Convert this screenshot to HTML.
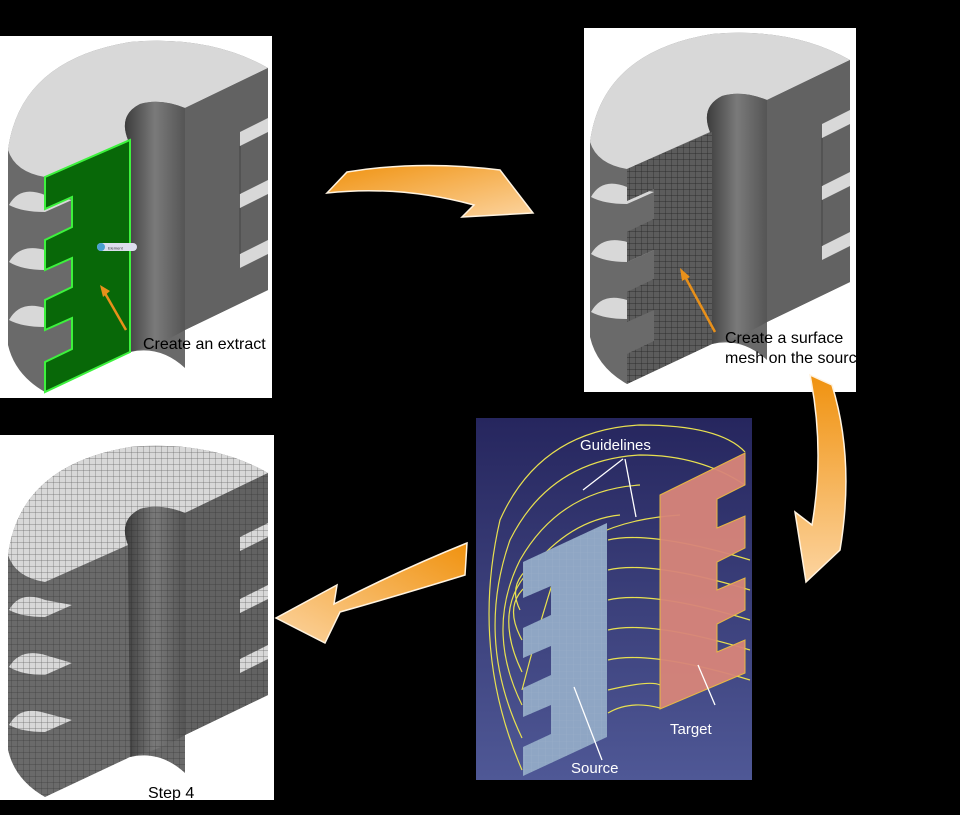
<!DOCTYPE html>
<html><head><meta charset="utf-8"><style>
html,body{margin:0;padding:0;background:#000;}
svg{display:block;}
text{font-family:"Liberation Sans",sans-serif;}
</style></head><body>
<svg width="960" height="815" viewBox="0 0 960 815" xmlns="http://www.w3.org/2000/svg">
<defs>
<linearGradient id="og" x1="0" y1="0" x2="1" y2="1"><stop offset="0" stop-color="#f0920f"/><stop offset="1" stop-color="#fcd4a0"/></linearGradient>
<linearGradient id="og2" x1="1" y1="0" x2="0" y2="1"><stop offset="0" stop-color="#f0920f"/><stop offset="1" stop-color="#fcd4a0"/></linearGradient>
<linearGradient id="og3" x1="0" y1="0" x2="0" y2="1"><stop offset="0" stop-color="#f0920f"/><stop offset="1" stop-color="#fcd4a0"/></linearGradient>
<linearGradient id="bg3" x1="0" y1="0" x2="0" y2="1"><stop offset="0" stop-color="#26265e"/><stop offset="1" stop-color="#4f5896"/></linearGradient>
<linearGradient id="hole" x1="0" y1="0" x2="1" y2="0"><stop offset="0" stop-color="#3c3c3c"/><stop offset="0.5" stop-color="#7a7a7a"/><stop offset="1" stop-color="#555"/></linearGradient>
<pattern id="grid" width="6" height="6" patternUnits="userSpaceOnUse"><path d="M6 0V6M0 6H6" stroke="#222" stroke-width="0.7" fill="none"/></pattern>
<pattern id="grid2" width="7" height="7" patternUnits="userSpaceOnUse"><path d="M7 0V7M0 7H7" stroke="#9bb0c8" stroke-width="0.6" fill="none"/></pattern>
<g id="cyl">
<path d="M8,150 Q20,60 130,42 Q210,35 268,68 L268,290 L185,330 L185,368 Q160,345 130,352 L45,392 Q15,375 8,345Z" fill="#6a6a6a"/>
<path d="M8,150 Q20,60 130,42 Q210,35 268,68 L185,108 Q160,98 140,104 Q118,115 128,140 L45,177 Q15,172 8,150Z" fill="#d8d8d8"/>
<path d="M128,140 Q118,115 140,104 Q160,98 185,108 L185,330 Q160,345 130,352Z" fill="url(#hole)"/>
<path d="M185,108 L268,68 L268,290 L185,330Z" fill="#626262"/>
<path d="M240,132 L268,118 L268,132 L240,146Z" fill="#d8d8d8"/>
<path d="M240,194 L268,180 L268,194 L240,208Z" fill="#d8d8d8"/>
<path d="M240,254 L268,240 L268,254 L240,268Z" fill="#d8d8d8"/>
<path d="M240,146 L240,194 M240,208 L240,254" stroke="#444" />
<path d="M9,205 Q20,185 45,195 L72,200 L45,212 Q22,212 9,205Z" fill="#d8d8d8"/>
<path d="M9,262 Q20,243 45,250 L72,258 L45,270 Q22,270 9,262Z" fill="#d8d8d8"/>
<path d="M9,320 Q20,300 45,308 L72,315 L45,327 Q22,327 9,320Z" fill="#d8d8d8"/>
</g>
</defs>

<!-- Panel 1 -->
<rect x="0" y="36" width="272" height="362" fill="#fff"/>
<use href="#cyl"/>
<path d="M45,177 L130,140 L130,352 L45,392 L45,362 L72,349 L72,318 L45,330 L45,300 L72,287 L72,258 L45,270 L45,240 L72,227 L72,197 L45,209Z" fill="#086808" stroke="#3df23d" stroke-width="2"/>
<rect x="97" y="243" width="40" height="8" rx="4" fill="#dde"/>
<circle cx="101" cy="247" r="4" fill="#4aa0d0"/>
<text x="108" y="249.5" font-size="4" fill="#333">Element</text>
<line x1="126" y1="330" x2="102" y2="288" stroke="#e8901a" stroke-width="2.5"/>
<path d="M100,285 L110,291 L103,297Z" fill="#e8901a"/>
<text x="143" y="349" font-size="16" fill="#000">Create an extract</text>
<rect x="272" y="36" width="20" height="362" fill="#000"/>

<!-- Panel 2 -->
<rect x="584" y="28" width="272" height="364" fill="#fff"/>
<g transform="translate(582,-8)"><use href="#cyl"/>
<path d="M45,177 L130,140 L130,352 L45,392 L45,362 L72,349 L72,318 L45,330 L45,300 L72,287 L72,258 L45,270 L45,240 L72,227 L72,197 L45,209Z" fill="#5c5c5c"/>
<path d="M45,177 L130,140 L130,352 L45,392 L45,362 L72,349 L72,318 L45,330 L45,300 L72,287 L72,258 L45,270 L45,240 L72,227 L72,197 L45,209Z" fill="url(#grid)"/>
</g>
<line x1="715" y1="332" x2="683" y2="273" stroke="#e8901a" stroke-width="2.5"/>
<path d="M680,268 L690,277 L682,281Z" fill="#e8901a"/>
<text x="725" y="343" font-size="16" fill="#000">Create a surface</text>
<text x="725" y="363" font-size="16" fill="#000">mesh on the source</text>
<rect x="856" y="28" width="40" height="364" fill="#000"/>

<!-- Panel 4 -->
<rect x="0" y="435" width="274" height="365" fill="#fff"/>
<g transform="translate(0,405)"><use href="#cyl"/>
<path d="M8,150 Q20,60 130,42 Q210,35 268,68 L268,290 L185,330 L185,368 Q160,345 130,352 L45,392 Q15,375 8,345Z" fill="url(#grid)" opacity="0.6"/>
</g>
<text x="148" y="798" font-size="16" fill="#000">Step 4</text>

<!-- Panel 3 -->
<rect x="476" y="418" width="276" height="362" fill="url(#bg3)"/>
<g fill="none" stroke="#e8e050" stroke-width="1.2">
<path d="M522,770 Q470,650 500,520 Q540,430 640,425 Q720,425 745,452"/>
<path d="M522,738 Q475,640 510,540 Q550,460 640,455 Q700,455 745,485"/>
<path d="M522,705 Q485,630 520,560 Q560,490 640,485"/>
<path d="M522,672 Q492,610 530,570 Q570,520 620,515"/>
<path d="M522,640 Q500,600 535,580 M520,610 Q505,580 540,560"/>
<path d="M522,690 Q540,620 560,560 Q600,520 680,515"/>
<path d="M608,540 Q650,530 750,560 M608,570 Q650,560 750,590 M608,600 Q650,590 750,620 M608,630 Q650,620 750,650 M608,660 Q650,650 750,680 M608,690 Q650,680 660,685"/>
<path d="M608,713 Q630,700 660,708"/>
</g>
<path d="M660,495 L745,453 L745,485 L717,499 L717,528 L745,516 L745,548 L717,562 L717,590 L745,578 L745,610 L717,624 L717,652 L745,640 L745,673 L660,709Z" fill="#d8857a" stroke="#f0c040" stroke-width="1" opacity="0.95"/>
<path d="M523,562 L607,523 L607,737 L523,776 L523,747 L551,734 L551,705 L523,717 L523,688 L551,675 L551,646 L523,658 L523,628 L551,615 L551,586 L523,598Z" fill="#8fa6c4"/>
<path d="M523,562 L607,523 L607,737 L523,776 L523,747 L551,734 L551,705 L523,717 L523,688 L551,675 L551,646 L523,658 L523,628 L551,615 L551,586 L523,598Z" fill="url(#grid2)"/>
<text x="580" y="450" font-size="15" fill="#fff">Guidelines</text>
<g stroke="#fff" stroke-width="1.3" fill="none"><path d="M623,459 L583,490 M625,459 L636,517 M602,760 L574,687 M715,705 L698,665"/></g>
<text x="571" y="773" font-size="15" fill="#fff">Source</text>
<text x="670" y="734" font-size="15" fill="#fff">Target</text>

<!-- Arrows -->
<path d="M327,193 L347,172 Q420,160 500,170 L533,213 L462,217 L474,205 Q400,185 327,193Z" fill="url(#og)" stroke="#fff3e0" stroke-width="1.5"/>
<path d="M810,375 L832,385 Q855,460 840,550 L806,582 L795,512 L812,525 Q825,450 810,375Z" fill="url(#og3)" stroke="#fff3e0" stroke-width="1.5"/>
<path d="M467,543 L465,575 Q400,595 340,612 L325,643 L276,618 L337,585 L334,604 Q400,570 467,543Z" fill="url(#og2)" stroke="#fff3e0" stroke-width="1.5"/>
</svg>
</body></html>
